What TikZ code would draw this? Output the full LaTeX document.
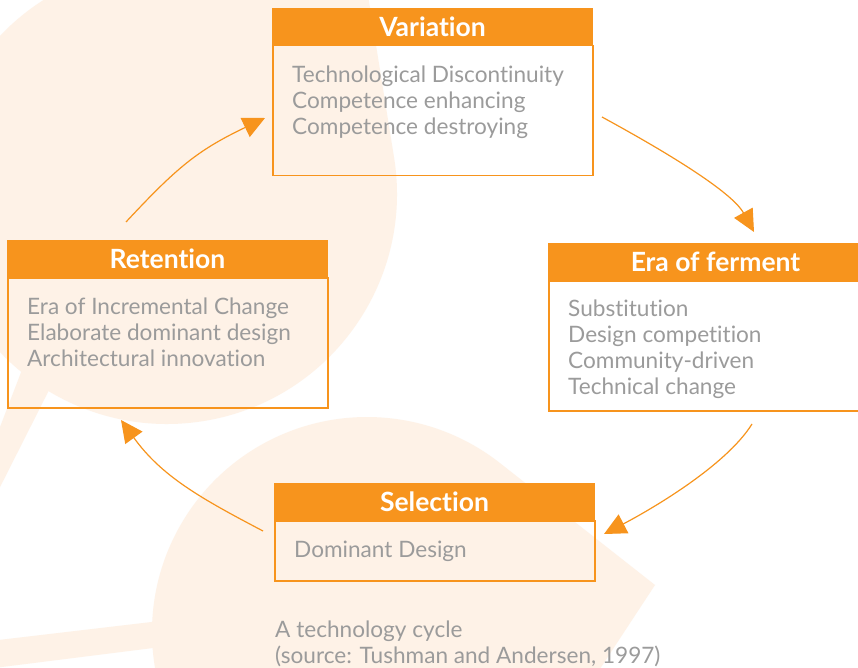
\documentclass[tikz,border=0pt]{standalone}
\usepackage{fontspec}
\setmainfont{Lato}[Ligatures={NoCommon}]
\usetikzlibrary{arrows.meta,calc}
\definecolor{orng}{HTML}{F7941D}
\definecolor{peach}{HTML}{FEF2E7}
\definecolor{txtgray}{HTML}{9B9B9B}
\newcommand{\bodylines}[1]{\vtop{\baselineskip=26pt\lineskiplimit=-100pt\lineskip=0pt #1}}
\begin{document}
\begin{tikzpicture}[x=1pt,y=-1pt,
 hdr/.style={fill=orng, draw=orng, line width=1pt, minimum width=320pt, minimum height=37pt, inner sep=0pt, anchor=north west, text=white, font=\fontsize{26.5}{30}\selectfont\bfseries},
 bodybox/.style={draw=orng, line width=1.5pt, minimum width=320pt, inner sep=0pt, anchor=north west},
 bodytxt/.style={anchor=base west, inner sep=0pt, text=txtgray, font=\fontsize{22.6}{26}\selectfont},
 cyc/.style={draw=orng, line width=1.2pt, -{Triangle[length=22pt,width=21pt]}}
]
\useasboundingbox (0,0) rectangle (858,668);
\clip (0,0) rectangle (858,668);
\fill[white] (0,0) rectangle (858,668);
% background decoration
\fill[peach] (358,-67) -- ($(167,194)+(-8.6:230)$) arc[start angle=-8.6, end angle=261.6, radius=230] -- cycle;
\fill[peach] (-10,453) -- (50,297) -- (72,344.5) -- (-10,507) -- cycle;
\fill[peach] (655,585) -- ($(367,632)+(33.2:215)$) arc[start angle=33.2, end angle=308.2, radius=215] -- cycle;
\fill[peach] (-10,641) -- (250,610.4) -- (250,635.8) -- (-10,668.5) -- cycle;

% Variation
\node[hdr] (varH) at (272,8) {Variation};
\node[bodybox, minimum height=130pt] (varB) at (272,45) {};
\node[bodytxt] (varT) at ($(varB.north west)+(20,38)$) {\bodylines{\hbox{Technological Discontinuity}\hbox{Competence enhancing}\hbox{Competence destroying}}};

% Era of ferment
\node[hdr, minimum width=334pt] (eraH) at (548,243) {Era of ferment};
\node[bodybox, minimum width=334pt, minimum height=130pt] (eraB) at (548,280) {};
\node[bodytxt] (eraT) at ($(eraB.north west)+(20,36)$) {\bodylines{\hbox{Substitution}\hbox{Design competition}\hbox{Community-driven}\hbox{Technical change}}};

% Selection
\node[hdr] (selH) at (274,483) {Selection};
\node[bodybox, minimum height=60pt] (selB) at (274,520) {};
\node[bodytxt] (selT) at ($(selB.north west)+(20,37)$) {\bodylines{\hbox{Dominant Design}}};

% Retention
\node[hdr] (retH) at (7,240) {Retention};
\node[bodybox, minimum height=130pt] (retB) at (7,277) {};
\node[bodytxt] (retT) at ($(retB.north west)+(20,37)$) {\bodylines{\hbox{Era of Incremental Change}\hbox{Elaborate dominant design}\hbox{Architectural innovation}}};

% caption
\node[bodytxt] (cap) at (275,637) {\bodylines{\hbox{A technology cycle}\hbox{(source: Tushman and Andersen, 1997)}}};

% arrow end points
\coordinate (a1s) at (126,222);
\coordinate (a1e) at (265,118);
\coordinate (a2s) at (602,117);
\coordinate (a2e) at (754,232);
\coordinate (a3s) at (752,424);
\coordinate (a3e) at (604,534);
\coordinate (a4s) at (263,531);
\coordinate (a4e) at (121,420);

\draw[cyc] (a1s) .. controls (177,167.3) and (197.5,150.3) .. (a1e);
\draw[cyc] (a2s) .. controls (646,141) and (730,188.5) .. (a2e);
\draw[cyc] (a3s) .. controls (725.5,466.5) and (649,510.5) .. (a3e);
\draw[cyc] (a4s) .. controls (201,498.4) and (162,476.7) .. (a4e);
\end{tikzpicture}
\end{document}
